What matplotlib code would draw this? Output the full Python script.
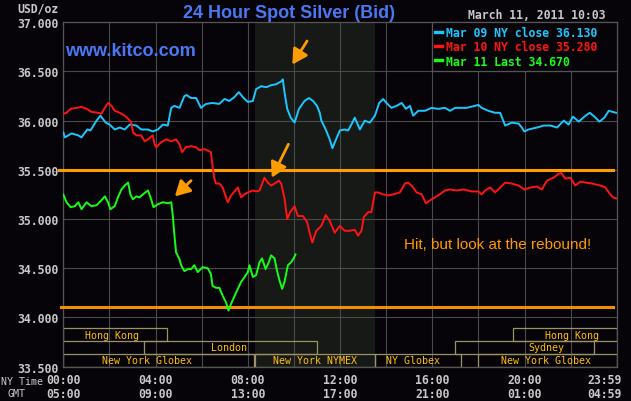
import matplotlib
matplotlib.use("Agg")
import matplotlib.pyplot as plt
from matplotlib.patches import Rectangle
import numpy as np

# ---------------------------------------------------------------------------
# Data (hours since 00:00 NY time, USD/oz)
# ---------------------------------------------------------------------------
mar09_t = [0, 0.07, 0.36, 0.65, 0.79, 1.04, 1.18, 1.44, 1.61, 1.84,
           2.01, 2.23, 2.45, 2.66, 2.88, 3.17, 3.38, 3.67, 3.88, 4.10,
           4.32, 4.53, 4.68, 4.82, 5.04, 5.25, 5.35, 5.54, 5.76, 5.97,
           6.19, 6.47, 6.76, 6.99, 7.20, 7.42, 7.61, 7.78, 8.00, 8.22,
           8.36, 8.58, 8.80, 9.01, 9.23, 9.45, 9.52, 9.59, 9.71, 9.86,
           10.03, 10.22, 10.46, 10.65, 10.83, 11.00, 11.12, 11.19, 11.38, 11.55,
           11.67, 11.81, 11.99, 12.20, 12.35, 12.49, 12.64, 12.86, 13.07, 13.29,
           13.51, 13.70, 13.87, 14.01, 14.23, 14.45, 14.67, 14.86, 15.03, 15.17,
           15.39, 15.68, 15.97, 16.26, 16.55, 16.77, 16.99, 17.49, 18.00, 18.14,
           18.43, 18.72, 18.94, 19.16, 19.45, 19.74, 19.88, 19.99, 20.17, 20.54,
           20.83, 21.12, 21.41, 21.70, 21.91, 22.10, 22.35, 22.64, 22.83, 23.03,
           23.25, 23.46, 23.65, 23.97]
mar09_v = [35.88, 35.83, 35.87, 35.85, 35.83, 35.91, 35.90, 36.00, 36.05, 35.98,
           35.96, 35.91, 35.93, 35.91, 35.96, 35.95, 35.91, 35.91, 35.89, 35.91,
           35.96, 35.95, 36.13, 36.15, 36.13, 36.25, 36.26, 36.23, 36.23, 36.13,
           36.17, 36.18, 36.17, 36.22, 36.20, 36.24, 36.29, 36.24, 36.19, 36.20,
           36.32, 36.35, 36.34, 36.36, 36.37, 36.40, 36.42, 36.29, 36.12, 36.03,
           35.98, 36.12, 36.20, 36.23, 36.20, 36.15, 36.08, 36.00, 35.91, 35.81,
           35.72, 35.80, 35.90, 35.91, 35.90, 35.96, 36.03, 35.91, 36.00, 35.98,
           36.05, 36.18, 36.22, 36.18, 36.13, 36.15, 36.18, 36.12, 36.15, 36.05,
           36.10, 36.10, 36.13, 36.12, 36.13, 36.10, 36.13, 36.13, 36.16, 36.13,
           36.10, 36.08, 36.08, 35.95, 35.98, 35.97, 35.93, 35.89, 35.91, 35.93,
           35.95, 35.95, 35.93, 36.00, 35.96, 36.04, 35.99, 36.05, 36.08, 36.04,
           35.99, 36.03, 36.10, 36.08]

mar10_t = [0, 0.14, 0.32, 0.58, 0.79, 1.01, 1.22, 1.51, 1.65, 1.80,
           1.94, 2.09, 2.23, 2.45, 2.66, 2.81, 2.95, 3.02, 3.17, 3.38,
           3.53, 3.67, 3.88, 3.96, 4.03, 4.24, 4.46, 4.68, 4.89, 5.04,
           5.15, 5.32, 5.54, 5.76, 5.90, 6.12, 6.40, 6.47, 6.55, 6.62,
           6.77, 6.91, 7.13, 7.28, 7.42, 7.57, 7.71, 7.86, 8.00, 8.22,
           8.36, 8.51, 8.72, 8.87, 9.01, 9.16, 9.35, 9.45, 9.59, 9.71,
           9.84, 10.03, 10.17, 10.39, 10.57, 10.68, 10.80, 10.97, 11.19, 11.38,
           11.55, 11.77, 11.99, 12.20, 12.42, 12.64, 12.78, 12.93, 13.03, 13.22,
           13.36, 13.51, 13.65, 13.87, 14.09, 14.30, 14.59, 14.81, 14.96, 15.17,
           15.32, 15.54, 15.72, 15.97, 16.26, 16.55, 16.77, 17.06, 17.35, 17.71,
           18.00, 18.14, 18.29, 18.51, 18.72, 18.94, 19.16, 19.45, 19.74, 19.99,
           20.25, 20.54, 20.75, 20.97, 21.26, 21.48, 21.58, 21.77, 21.99, 22.20,
           22.42, 22.64, 22.93, 23.29, 23.51, 23.65, 23.83, 23.97]
mar10_v = [36.07, 36.08, 36.12, 36.13, 36.14, 36.12, 36.09, 36.08, 36.07, 36.13,
           36.18, 36.15, 36.10, 36.08, 36.05, 36.02, 35.98, 35.88, 35.85, 35.85,
           35.79, 35.81, 35.85, 35.76, 35.73, 35.78, 35.81, 35.79, 35.81, 35.76,
           35.68, 35.73, 35.74, 35.73, 35.70, 35.71, 35.68, 35.54, 35.41, 35.36,
           35.36, 35.32, 35.17, 35.24, 35.28, 35.32, 35.22, 35.25, 35.27, 35.29,
           35.28, 35.29, 35.42, 35.37, 35.34, 35.36, 35.39, 35.36, 35.21, 35.00,
           35.07, 35.13, 35.03, 35.03, 34.97, 34.86, 34.76, 34.88, 34.93, 35.04,
           34.98, 34.86, 34.93, 34.88, 34.88, 34.89, 34.83, 34.88, 35.02, 35.07,
           35.07, 35.27, 35.27, 35.25, 35.24, 35.25, 35.27, 35.36, 35.37, 35.32,
           35.27, 35.25, 35.16, 35.20, 35.24, 35.29, 35.30, 35.29, 35.30, 35.28,
           35.28, 35.25, 35.29, 35.32, 35.27, 35.32, 35.37, 35.36, 35.34, 35.30,
           35.32, 35.33, 35.30, 35.39, 35.42, 35.46, 35.47, 35.41, 35.42, 35.34,
           35.38, 35.37, 35.36, 35.34, 35.32, 35.27, 35.22, 35.21]

mar11_t = [0, 0.14, 0.32, 0.50, 0.65, 0.79, 1.01, 1.22, 1.44, 1.65,
           1.80, 1.94, 2.04, 2.23, 2.37, 2.52, 2.66, 2.81, 2.91, 3.02,
           3.17, 3.31, 3.45, 3.67, 3.81, 3.91, 4.10, 4.32, 4.53, 4.68,
           4.75, 4.82, 4.89, 5.04, 5.11, 5.25, 5.40, 5.54, 5.68, 5.83,
           6.04, 6.26, 6.40, 6.47, 6.62, 6.77, 6.91, 7.06, 7.16, 7.28,
           7.49, 7.71, 7.86, 8.00, 8.07, 8.22, 8.36, 8.51, 8.62, 8.77,
           8.91, 9.01, 9.16, 9.26, 9.38, 9.49, 9.59, 9.74, 9.88, 9.99,
           10.07]
mar11_v = [35.25, 35.17, 35.12, 35.13, 35.17, 35.10, 35.17, 35.13, 35.14, 35.19,
           35.23, 35.17, 35.10, 35.13, 35.22, 35.30, 35.34, 35.37, 35.25, 35.20,
           35.23, 35.22, 35.25, 35.29, 35.20, 35.12, 35.15, 35.17, 35.16, 35.17,
           35.03, 34.83, 34.66, 34.59, 34.53, 34.47, 34.49, 34.49, 34.53, 34.46,
           34.51, 34.50, 34.44, 34.32, 34.30, 34.30, 34.22, 34.15, 34.07, 34.14,
           34.25, 34.36, 34.41, 34.46, 34.53, 34.41, 34.43, 34.56, 34.60, 34.49,
           34.56, 34.63, 34.60, 34.48, 34.37, 34.29, 34.36, 34.53, 34.56, 34.60,
           34.64]

series_labels = ["Mar 09 NY close 36.130",
                 "Mar 10 NY close 35.280",
                 "Mar 11 Last 34.670"]
series_colors = ["#19c8ff", "#ff1414", "#14ff14"]

support_levels = [35.5, 34.11]

y_ticks = [33.5, 34.0, 34.5, 35.0, 35.5, 36.0, 36.5, 37.0]
ny_time = ["00:00", "04:00", "08:00", "12:00", "16:00", "20:00"]
gmt_time = ["05:00", "09:00", "13:00", "17:00", "21:00", "01:00"]

nymex_open, nymex_close = 8.33, 13.5

# market sessions: name, row (0 = bottom), start h, end h
sess_names = ["Hong Kong", "London", "New York Globex", "New York NYMEX",
              "NY Globex", "New York Globex", "Sydney", "Hong Kong"]
sess_rows = [2, 1, 0, 0, 0, 0, 1, 2]
sess_start = [0, 3.5, 0, 8.33, 13.5, 18.0, 17.0, 19.5]
sess_end = [4.5, 11.0, 8.25, 13.5, 17.25, 24.0, 23.0, 24.0]
sess_text_x = [2.11, 7.17, 3.63, 10.9, 15.16, 20.92, 20.95, 22.04]

# ---------------------------------------------------------------------------
BG = "#060409"
GRID = "#4a4a4a"
TXT = "#c8c8c8"
ORANGE = "#ff9c00"
MONO = "DejaVu Sans Mono"

W, H = 631, 402
fig = plt.figure(figsize=(W / 100, H / 100), dpi=100, facecolor=BG)
ax = fig.add_axes([63.3 / W, 1 - 367.5 / H, 553.5 / W, 344.2 / H], facecolor=BG)
ax.set_xlim(0, 24)
ax.set_ylim(33.5, 37.0)

ax.axvspan(nymex_open, nymex_close, color="#161916", lw=0, zorder=0)

# grid every 2 h, labels every 4 h (23:59 is added separately below)
xlabels = []
for i in range(13):
    if i % 2 == 0 and i // 2 < len(ny_time):
        xlabels.append(f"{ny_time[i // 2]}\n{gmt_time[i // 2]}")
    else:
        xlabels.append("")
ax.set_axisbelow(True)
ax.set_xticks(np.arange(0, 25, 2))
ax.set_xticklabels(xlabels)
ax.set_yticks(y_ticks)
ax.set_yticklabels([f"{v:.3f}" for v in y_ticks])
ax.grid(True, color=GRID, lw=0.8)
ax.tick_params(length=0, colors=TXT)
ax.tick_params(axis="y", pad=3.6)
ax.tick_params(axis="x", pad=4.5)
for lab in ax.get_xticklabels() + ax.get_yticklabels():
    lab.set_fontfamily(MONO)
    lab.set_fontweight("bold")
    lab.set_fontsize(8.3)
for lab in ax.get_xticklabels():
    lab.set_linespacing(1.15)
for sp in ax.spines.values():
    sp.set_color("#555555")
    sp.set_linewidth(0.9)

ax.annotate("23:59\n04:59", xy=(24, 0), xycoords=("data", "axes fraction"),
            xytext=(-12, -6.3), textcoords="offset pixels", ha="center", va="top",
            fontfamily=MONO, fontweight="bold", fontsize=8.3, color=TXT,
            linespacing=1.15, annotation_clip=False)

# support lines
ax.axhline(support_levels[0], xmin=-0.007, xmax=0.993, color=ORANGE, lw=2.2,
           clip_on=False, zorder=3)
ax.axhline(support_levels[1], xmin=-0.005, xmax=0.993, color="#f09000", lw=2.2,
           clip_on=False, zorder=3)

# price lines
lines = []
for t, v, c in zip([mar09_t, mar10_t, mar11_t], [mar09_v, mar10_v, mar11_v],
                   series_colors):
    ln, = ax.plot(t, v, color=c, lw=1.4, zorder=4)
    lines.append(ln)

# session boxes
row_h = 0.13
for name, r, s, e, tx in zip(sess_names, sess_rows, sess_start, sess_end, sess_text_x):
    y0 = 33.5 + r * row_h
    ax.add_patch(Rectangle((s, y0), e - s, row_h, fill=False, edgecolor="#9a9464",
                           lw=0.9, zorder=2))
    ax.text(tx, y0 + row_h / 2, name, ha="center", va="center", color="#ffc000",
            fontfamily=MONO, fontsize=7.2, zorder=3)

# arrows
arrow_tails = [(10.57, 36.81), (9.76, 35.76), (5.54, 35.39)]
arrow_tips = [(9.93, 36.57), (9.04, 35.42), (4.84, 35.23)]
for tail, tip in zip(arrow_tails, arrow_tips):
    ax.annotate("", xy=tip, xytext=tail,
                arrowprops=dict(arrowstyle="-|>,head_length=0.9,head_width=0.5",
                                color=ORANGE, lw=2.0, mutation_scale=10,
                                shrinkA=0, shrinkB=0), zorder=5)

ax.text(14.77, 34.705, "Hit, but look at the rebound!", color="#ff9900",
        fontsize=11, family="Liberation Sans", va="baseline", ha="left")

# legend
leg = ax.legend(lines, series_labels, loc="upper left",
                bbox_to_anchor=(0.666, 0, 0.334, 1), mode="expand",
                borderaxespad=0, borderpad=0.3, labelspacing=0.12,
                handlelength=0.6, handletextpad=0.3, fancybox=False,
                framealpha=1, facecolor=BG, edgecolor="#555555",
                prop=dict(family=MONO, weight="bold", size=8.3))
leg.get_frame().set_linewidth(0.9)
for txt, c in zip(leg.get_texts(), series_colors):
    txt.set_color(c)
for h in leg.legend_handles:
    h.set_linewidth(2.4)

# header texts
fig.text(183 / W, 1 - 18.3 / H, "24 Hour Spot Silver (Bid)", color="#4a78f5",
         fontsize=13, family="Liberation Sans", fontweight="bold",
         va="baseline", ha="left")
fig.text(65 / W, 1 - 56.5 / H, "www.kitco.com", color="#4a78f5",
         fontsize=13, family="Liberation Sans", fontweight="bold",
         va="baseline", ha="left")
fig.text(58.3 / W, 1 - 13 / H, "USD/oz", color=TXT, fontsize=8.3,
         family=MONO, fontweight="bold", va="baseline", ha="right")
fig.text(605 / W, 1 - 19.3 / H, "March 11, 2011 10:03", color=TXT, fontsize=8.3,
         family=MONO, fontweight="bold", va="baseline", ha="right")
fig.text(1 / W, 1 - 385 / H, "NY Time", color=TXT, fontsize=7.2,
         family=MONO, va="baseline", ha="left")
fig.text(8 / W, 1 - 397 / H, "GMT", color=TXT, fontsize=7.2,
         family=MONO, va="baseline", ha="left")

fig.savefig("out.png", dpi=100, facecolor=BG)
